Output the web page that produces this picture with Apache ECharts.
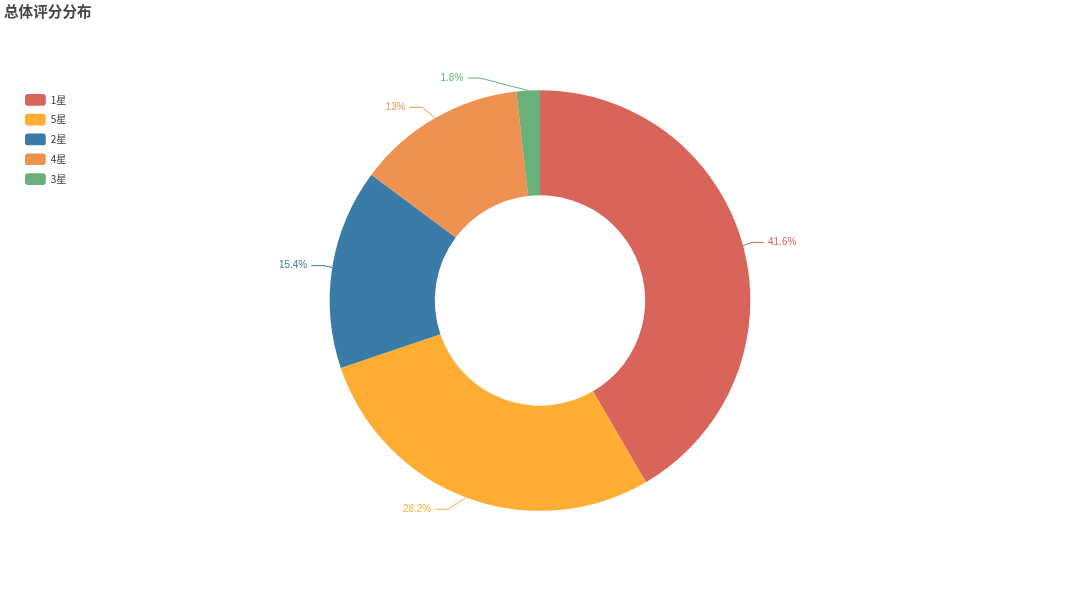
<!DOCTYPE html>
<html>
<head>
<meta charset="utf-8">
<script src="https://cdn.jsdelivr.net/npm/echarts@6/dist/echarts.min.js"></script>
<style>
  html, body { margin: 0; padding: 0; background: #fff; }
  #main { width: 1080px; height: 601px; }
</style>
</head>
<body>
<div id="main"></div>
<script>
// 评分等级及占比（%）
const categories = ['1星', '5星', '2星', '4星', '3星']
const percents = [41.6, 28.2, 15.4, 13, 1.8]
const colors = ['#d9655a', '#ffae33', '#3a7ba8', '#ef9150', '#6bb07b']

const lineLen = 12.5 // 引导线第一段
const lineLen2 = 12.5 // 引导线第二段
const labelDist = 4.2 // 文字与引导线的距离

const chart = echarts.init(document.getElementById('main'))

// 标签沿圆弧排布（旧版 echarts 的饼图标签布局）
function placeLabel (params) {
  const cx = chart.getWidth() / 2
  const cy = chart.getHeight() / 2
  const r = Math.min(chart.getWidth(), chart.getHeight()) * 0.35
  const p0 = params.labelLinePoints[0]
  const y = cy + (p0[1] - cy) * (r + lineLen) / r
  const dir = p0[0] < cx ? -1 : 1
  const dy = Math.abs(y - cy)
  const R = r + lineLen + lineLen2
  const dx = dy < r + lineLen ? Math.sqrt(R * R - dy * dy) : Math.abs(p0[0] - cx) + lineLen2
  const x = cx + dx * dir
  const x3 = x - dir * labelDist
  const x2 = x3 - dir * lineLen2
  return {
    x: x,
    y: y,
    align: dir < 0 ? 'right' : 'left',
    verticalAlign: 'middle',
    labelLinePoints: [p0, [x2, y], [x3, y]]
  }
}

chart.setOption({
  title: {
    text: '总体评分分布',
    left: 0,
    top: 0,
    padding: 4,
    textStyle: {
      fontSize: 14.6,
      fontWeight: 'bold',
      color: '#464646',
      fontFamily: 'Noto Sans CJK SC'
    }
  },
  color: colors,
  legend: {
    orient: 'vertical',
    left: 20,
    top: 89,
    itemWidth: 20.8,
    itemHeight: 11.7,
    itemGap: 8.1,
    textStyle: { fontSize: 10, color: '#333', fontFamily: 'Noto Sans CJK SC' },
    data: categories
  },
  series: [
    {
      type: 'pie',
      radius: ['35%', '70%'],
      center: ['50%', '50%'],
      startAngle: 90,
      label: {
        show: true,
        formatter: '{d}%',
        fontSize: 10,
        color: 'inherit',
        fontFamily: 'Helvetica, Arial, sans-serif'
      },
      labelLine: { length: lineLen, length2: lineLen2 },
      labelLayout: placeLabel,
      data: categories.map((name, i) => ({ name: name, value: percents[i] }))
    }
  ]
})
window.addEventListener('resize', function () {
  chart.resize()
})
</script>
</body>
</html>
